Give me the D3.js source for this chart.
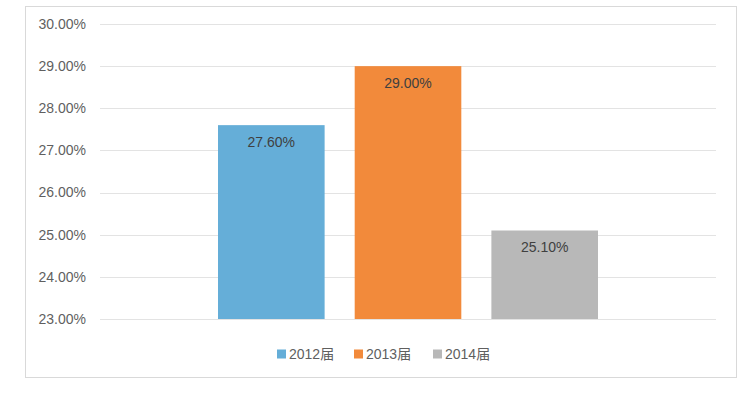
<!DOCTYPE html>
<html>
<head>
<meta charset="utf-8">
<script src="https://cdn.jsdelivr.net/npm/d3@7"></script>
<style>
  body { margin: 0; background: #fff; }
  svg text { font-family: "Liberation Sans", "Noto Sans CJK SC", sans-serif; }
</style>
</head>
<body>
<div id="chart"></div>
<script>
// series (one category, three cohorts)
const years = ['2012届', '2013届', '2014届'];
const rates = [27.6, 29.0, 25.1];
const colors = ['#65aed8', '#f28a3b', '#b8b8b8'];
const yTicks = [23, 24, 25, 26, 27, 28, 29, 30];

const width = 740, height = 398;

const svg = d3.select('#chart').append('svg')
  .attr('width', width)
  .attr('height', height);

// chart frame
svg.append('rect')
  .attr('x', 25.5).attr('y', 6.5)
  .attr('width', 711).attr('height', 371)
  .attr('fill', '#fff')
  .attr('stroke', '#d9d9d9')
  .attr('stroke-width', 1);

const plot = { left: 100, right: 716, top: 24, bottom: 319 };

const y = d3.scaleLinear()
  .domain([23, 30])
  .range([plot.bottom, plot.top]);

const x = d3.scaleBand()
  .domain(years)
  .range([218, 598])
  .paddingInner(0.22);

// gridlines
svg.append('g')
  .selectAll('line')
  .data(yTicks)
  .enter()
  .append('line')
  .attr('x1', plot.left)
  .attr('x2', plot.right)
  .attr('y1', d => Math.round(y(d)) + 0.5)
  .attr('y2', d => Math.round(y(d)) + 0.5)
  .attr('stroke', '#e3e3e3')
  .attr('stroke-width', 1);

// y axis labels
svg.append('g')
  .selectAll('text')
  .data(yTicks)
  .enter()
  .append('text')
  .attr('x', 86)
  .attr('y', d => y(d))
  .attr('dy', '0.35em')
  .attr('text-anchor', 'end')
  .attr('fill', '#5f5f5f')
  .attr('font-size', '14px')
  .text(d => d.toFixed(2) + '%');

// bars
svg.append('g')
  .selectAll('rect')
  .data(rates)
  .enter()
  .append('rect')
  .attr('x', (d, i) => x(years[i]))
  .attr('y', d => y(d))
  .attr('width', x.bandwidth())
  .attr('height', d => y(23) - y(d))
  .attr('fill', (d, i) => colors[i]);

// value labels inside bars
svg.append('g')
  .selectAll('text')
  .data(rates)
  .enter()
  .append('text')
  .attr('x', (d, i) => x(years[i]) + x.bandwidth() / 2)
  .attr('y', d => y(d) + 17)
  .attr('dy', '0.35em')
  .attr('text-anchor', 'middle')
  .attr('fill', '#404040')
  .attr('font-size', '14px')
  .text(d => d.toFixed(2) + '%');

// legend
const legendX = [277, 354, 433];
const legend = svg.append('g')
  .selectAll('g')
  .data(years)
  .enter()
  .append('g')
  .attr('transform', (d, i) => `translate(${legendX[i]},354)`);

legend.append('rect')
  .attr('x', 0).attr('y', -4.5)
  .attr('width', 9).attr('height', 9)
  .attr('fill', (d, i) => colors[i]);

legend.append('text')
  .attr('x', 12)
  .attr('y', 0)
  .attr('dy', '0.35em')
  .attr('fill', '#5f5f5f')
  .attr('font-size', '14px')
  .text(d => d);
</script>
</body>
</html>
